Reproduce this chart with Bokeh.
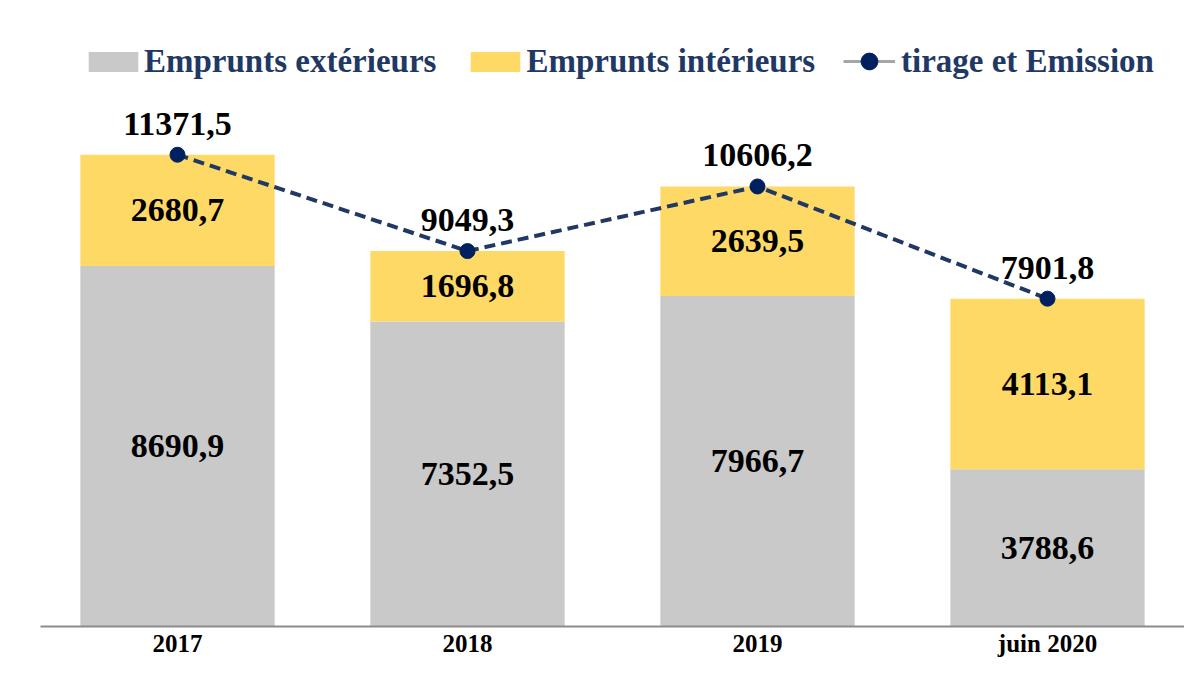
from bokeh.plotting import figure
from bokeh.models import ColumnDataSource, FactorRange, Legend, LegendItem, Range1d
from bokeh.core.properties import value
from bokeh.embed import file_html
from bokeh.resources import INLINE

categories = ["2017", "2018", "2019", "juin 2020"]
emprunts_exterieurs = [8690.9, 7352.5, 7966.7, 3788.6]
emprunts_interieurs = [2680.7, 1696.8, 2639.5, 4113.1]
tirage_emission = [11371.5, 9049.3, 10606.2, 7901.8]

GRAY = "#C9C9C9"
YELLOW = "#FFD966"
NAVY = "#002060"
NAVY_LINE = "#203864"
LEGEND_TEXT = "#1F3864"
FONT = "Liberation Serif"


def fmt(v):
    return f"{v:.1f}".replace(".", ",")


src = ColumnDataSource(dict(
    cat=categories,
    ext=emprunts_exterieurs,
    int=emprunts_interieurs,
    tir=tirage_emission,
    mid_ext=[e / 2 for e in emprunts_exterieurs],
    mid_int=[e + i / 2 for e, i in zip(emprunts_exterieurs, emprunts_interieurs)],
    lab_ext=[fmt(v) for v in emprunts_exterieurs],
    lab_int=[fmt(v) for v in emprunts_interieurs],
    lab_tir=[fmt(v) for v in tirage_emission],
))

xr = FactorRange(*categories, range_padding=-0.0276, range_padding_units="absolute")
p = figure(x_range=xr, y_range=Range1d(0, 14800),
           width=1184, height=659, output_backend="svg", toolbar_location=None,
           min_border_left=40, min_border_right=0, min_border_top=12, min_border_bottom=20)
p.yaxis.visible = False
p.xgrid.visible = False
p.ygrid.visible = False
p.outline_line_color = None

bars = p.vbar_stack(["ext", "int"], x="cat", width=0.67, color=[GRAY, YELLOW],
                    line_color=None, source=src)

p.line("cat", "tir", source=src, line_color=NAVY_LINE, line_width=4, line_dash="11 6")
p.scatter("cat", "tir", source=src, size=15, fill_color=NAVY, line_color=NAVY)

# legend-only renderers (NaN values draw nothing on the plot)
dummy = ColumnDataSource(dict(x=[categories[0]], y=[float("nan")]))
lg_line = p.line("x", "y", source=dummy, line_color="#A6A6A6", line_width=3)
lg_pt = p.scatter("x", "y", source=dummy, size=15, fill_color=NAVY, line_color=NAVY)

common = dict(text_font=value(FONT), text_font_style="bold", text_font_size="34px",
              text_align="center", text_color="black")
p.text(x="cat", y="mid_ext", text="lab_ext", source=src, text_baseline="middle", **common)
p.text(x="cat", y="mid_int", text="lab_int", source=src, text_baseline="middle", **common)
p.text(x="cat", y="tir", text="lab_tir", source=src, text_baseline="middle", y_offset=-31, **common)


def style_legend(lg):
    lg.label_text_font = FONT
    lg.label_text_font_style = "bold"
    lg.label_text_font_size = "33px"
    lg.label_text_color = LEGEND_TEXT
    lg.margin = 0
    lg.padding = 0
    lg.border_line_color = None
    lg.background_fill_alpha = 0


legend1 = Legend(items=[
    LegendItem(label="Emprunts extérieurs", renderers=[bars[0]]),
    LegendItem(label="Emprunts intérieurs", renderers=[bars[1]]),
], orientation="horizontal", location=(42, 546))
style_legend(legend1)
legend1.glyph_width = 62
legend1.glyph_height = 25
legend1.label_standoff = 0
legend1.spacing = 28

legend2 = Legend(items=[
    LegendItem(label="tirage et Emission", renderers=[lg_line, lg_pt]),
], orientation="horizontal", location=(803, 544))
style_legend(legend2)
legend2.glyph_width = 52
legend2.glyph_height = 42
legend2.label_standoff = 6

p.add_layout(legend1, "center")
p.add_layout(legend2, "center")

ax = p.xaxis[0]
ax.major_label_text_font = FONT
ax.major_label_text_font_style = "bold"
ax.major_label_text_font_size = "25px"
ax.major_label_text_color = "black"
ax.axis_line_color = "#8C8C8C"
ax.axis_line_width = 2
ax.major_tick_line_color = None
ax.minor_tick_line_color = None
ax.major_tick_out = 0
ax.major_tick_in = 0
ax.major_label_standoff = 3

open("out.html", "w").write(file_html(p, INLINE))
